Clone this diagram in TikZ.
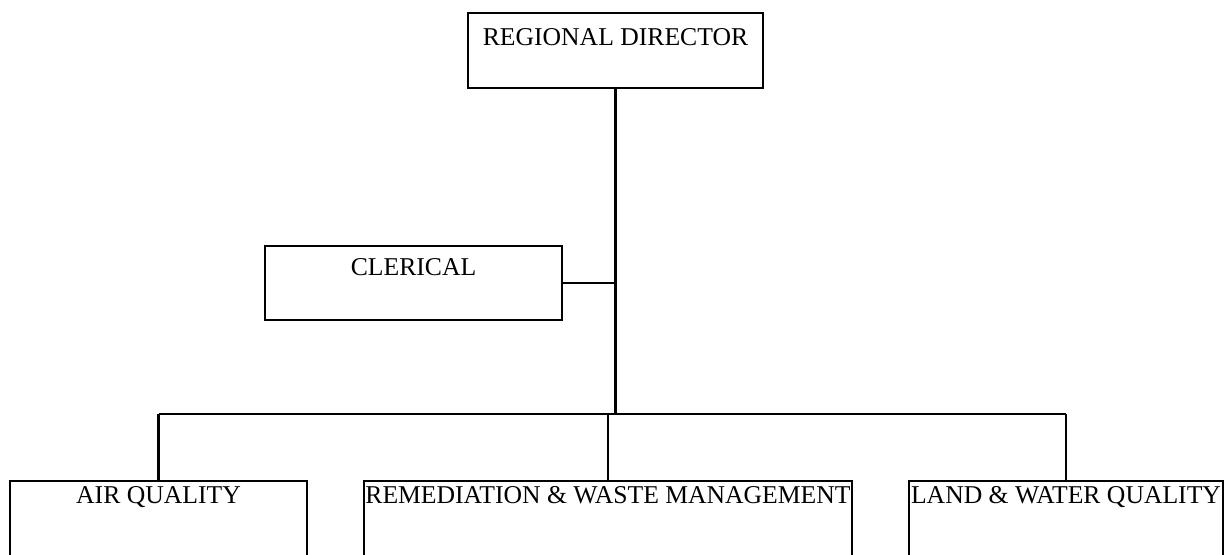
\documentclass[tikz,border=0pt]{standalone}
\usepackage{fontspec}
\setmainfont{Liberation Serif}
\usepackage{tikz}
\usetikzlibrary{calc}

\begin{document}
\begin{tikzpicture}[
  x=0.02cm, y=-0.02cm, line width=1.2pt,
  caja/.style={draw, line width=0.9pt, anchor=north, inner sep=0pt,
               font=\fontsize{14.6}{17}\selectfont},
  jefe/.style={caja, minimum width=5.9cm, text height=0.66cm, text depth=0.84cm},
  apoyo/.style={caja, minimum width=5.94cm, text height=0.6cm, text depth=0.88cm},
  area/.style={caja, text height=0.45cm, text depth=1.55cm}]

  \clip (0,0) rectangle (1226,554);

  \node[jefe] (rd) at (615.5,12) {REGIONAL DIRECTOR};
  \node[apoyo] (cler) at (413.5,245) {CLERICAL};

  \node[area, minimum width=5.94cm] (air) at (158.5,480) {AIR QUALITY};
  \node[area, minimum width=9.76cm] (rem) at (608,480)
    {REMEDIATION \& WASTE MANAGEMENT};
  \node[area, minimum width=6.28cm] (land) at (1066,480)
    {LAND \& WATER QUALITY};

  \coordinate (bus) at (617,414);

  \draw (rd.south) -- (rd.south |- bus);
  \draw (cler.east) -- (cler.east -| rd.south);
  \draw (air.north |- bus) -- (land.north |- bus);
  \draw (air.north |- bus) -- (air.north);
  \draw (rem.north |- bus) -- (rem.north);
  \draw (land.north |- bus) -- (land.north);
\end{tikzpicture}
\end{document}
